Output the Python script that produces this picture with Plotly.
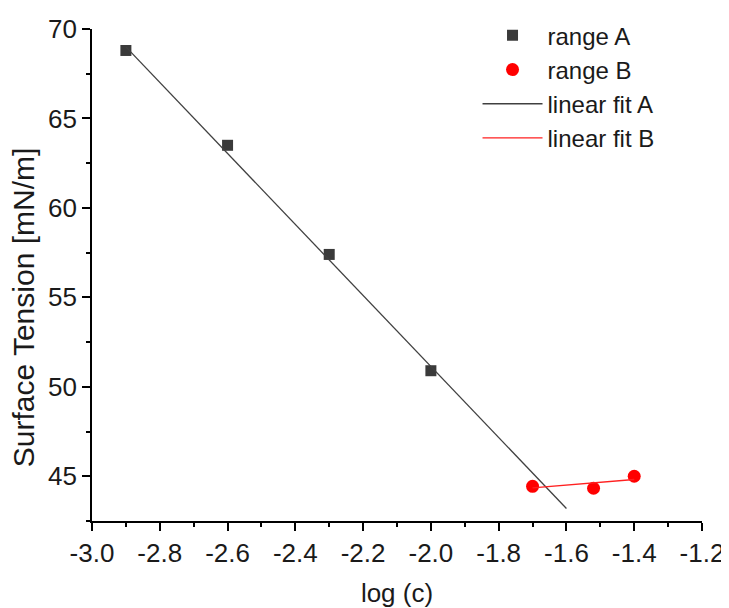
import plotly.graph_objects as go

# data
range_a_x = [-2.9, -2.6, -2.3, -2.0]
range_a_y = [68.8, 63.5, 57.4, 50.9]
range_b_x = [-1.70, -1.52, -1.40]
range_b_y = [44.44, 44.33, 45.0]
fit_a_x = [-2.9, -1.6]
fit_a_y = [69.0, 43.2]
fit_b_x = [-1.70, -1.40]
fit_b_y = [44.35, 44.82]
x_tick_vals = [-3.0, -2.8, -2.6, -2.4, -2.2, -2.0, -1.8, -1.6, -1.4, -1.2]
x_tick_text = ["-3.0", "-2.8", "-2.6", "-2.4", "-2.2", "-2.0", "-1.8", "-1.6", "-1.4", "-1.2"]
y_tick_vals = [45, 50, 55, 60, 65, 70]
y_tick_text = ["45", "50", "55", "60", "65", "70"]

FONT = "Arial, Liberation Sans, sans-serif"
TXT = "#1a1a1a"

fig = go.Figure()
fig.add_trace(go.Scatter(x=range_a_x, y=range_a_y, mode="markers", name="range A",
                         marker=dict(symbol="square", color="#3a3a3a", size=11)))
fig.add_trace(go.Scatter(x=range_b_x, y=range_b_y, mode="markers", name="range B",
                         marker=dict(symbol="circle", color="#ff0000", size=13)))
fig.add_trace(go.Scatter(x=fit_a_x, y=fit_a_y, mode="lines", name="linear fit A",
                         line=dict(color="#404040", width=1.3)))
fig.add_trace(go.Scatter(x=fit_b_x, y=fit_b_y, mode="lines", name="linear fit B",
                         line=dict(color="#ff2020", width=1.3)))

axis_common = dict(showline=True, linecolor="black", linewidth=1.6, ticks="outside",
                   ticklen=8, tickwidth=1.6, tickcolor="black", showgrid=False, zeroline=False,
                   tickfont=dict(family=FONT, size=26, color=TXT),
                   automargin=False, mirror=False)

# the page body has an 8px margin, so the figure is sized to fit inside the window
fig.update_layout(
    width=721, height=600,
    margin=dict(l=84, r=27, t=21, b=87, autoexpand=False),
    plot_bgcolor="white", paper_bgcolor="white",
    font=dict(family=FONT, size=25, color=TXT),
    xaxis=dict(range=[-3.0, -1.2], tickmode="array", tickvals=x_tick_vals, ticktext=x_tick_text,
               minor=dict(ticks="outside", ticklen=4, tickwidth=1.6, tickcolor="black", dtick=0.1, tick0=-3.0),
               title=dict(text="log (c)", font=dict(family=FONT, size=26, color=TXT), standoff=30),
               **axis_common),
    yaxis=dict(range=[42.5, 70], tickmode="array", tickvals=y_tick_vals, ticktext=y_tick_text,
               minor=dict(ticks="outside", ticklen=4, tickwidth=1.6, tickcolor="black", dtick=2.5, tick0=45),
               **axis_common),
    legend=dict(x=0.632, y=1.032, xanchor="left", yanchor="top", bgcolor="rgba(0,0,0,0)",
                font=dict(family=FONT, size=24, color=TXT), itemwidth=60,
                tracegroupgap=0),
    annotations=[dict(text="Surface Tension [mN/m]", xref="paper", yref="paper",
                      x=-0.111, y=0.435, xanchor="center", yanchor="middle",
                      textangle=-90, showarrow=False,
                      font=dict(family=FONT, size=30, color=TXT))],
)
fig.write_html("out.html")
